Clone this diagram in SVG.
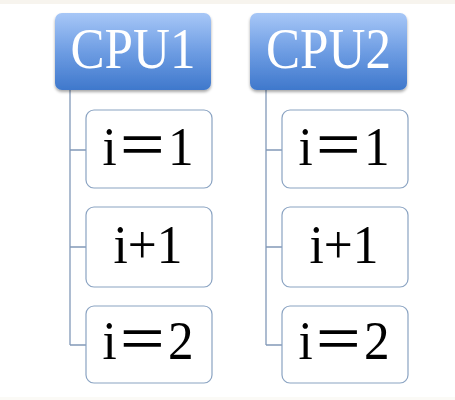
<svg xmlns="http://www.w3.org/2000/svg" width="455" height="400" viewBox="0 0 455 400">
<defs>
<linearGradient id="cpuGrad" x1="0" y1="0" x2="0" y2="1">
<stop offset="0" stop-color="#a7c7f7"/>
<stop offset="0.5" stop-color="#6e9de3"/>
<stop offset="1" stop-color="#3f78cc"/>
</linearGradient>
<filter id="sh" x="-10%" y="-10%" width="120%" height="130%">
<feGaussianBlur in="SourceAlpha" stdDeviation="1.5"/>
<feOffset dy="1.5"/>
<feComponentTransfer><feFuncA type="linear" slope="0.35"/></feComponentTransfer>
<feMerge><feMergeNode/><feMergeNode in="SourceGraphic"/></feMerge>
</filter>
</defs>
<style>
.cpu{fill:url(#cpuGrad);filter:url(#sh);}
.cpuT{font-family:"Liberation Serif",serif;font-size:57px;fill:#ffffff;text-anchor:middle;}
.box{fill:#ffffff;stroke:#8aa3c2;stroke-width:1.2;}
.boxT{font-family:"Liberation Serif","Noto Sans CJK SC",serif;font-size:55px;fill:#000000;text-anchor:middle;}
.con{fill:none;stroke:#8299b8;stroke-width:1.3;}
</style>
<rect x="0" y="0" width="455" height="400" fill="#ffffff"/>
<rect x="0" y="0" width="455" height="4" fill="#f7f4ee"/>
<rect x="0" y="397" width="455" height="3" fill="#fbfaf6"/>
<g id="connectors">
<path class="con" d="M70,90 V345 M70,150 H86 M70,247 H86 M70,345 H86"/>
<path class="con" d="M266,90 V345 M266,150 H282 M266,247 H282 M266,345 H282"/>
</g>
<g id="cpu1">
<rect class="cpu" x="55" y="13" width="156" height="77" rx="7"/>
<text class="cpuT" x="133" y="68" textLength="125" lengthAdjust="spacingAndGlyphs">CPU1</text>
</g>
<g id="cpu2">
<rect class="cpu" x="250" y="13" width="157" height="77" rx="7"/>
<text class="cpuT" x="328.5" y="68" textLength="125" lengthAdjust="spacingAndGlyphs">CPU2</text>
</g>
<g id="cpu1-a">
<rect class="box" x="86" y="110" width="126" height="78" rx="8"/>
<text class="boxT" x="148" y="165" textLength="91" lengthAdjust="spacingAndGlyphs">i＝1</text>
</g>
<g id="cpu1-b">
<rect class="box" x="86" y="207" width="126" height="80" rx="8"/>
<text class="boxT" x="148" y="263" textLength="69" lengthAdjust="spacingAndGlyphs">i+1</text>
</g>
<g id="cpu1-c">
<rect class="box" x="86" y="306" width="126" height="77" rx="8"/>
<text class="boxT" x="148" y="359" textLength="91" lengthAdjust="spacingAndGlyphs">i＝2</text>
</g>
<g id="cpu2-a">
<rect class="box" x="282" y="110" width="126" height="78" rx="8"/>
<text class="boxT" x="344" y="165" textLength="91" lengthAdjust="spacingAndGlyphs">i＝1</text>
</g>
<g id="cpu2-b">
<rect class="box" x="282" y="207" width="126" height="80" rx="8"/>
<text class="boxT" x="344" y="263" textLength="69" lengthAdjust="spacingAndGlyphs">i+1</text>
</g>
<g id="cpu2-c">
<rect class="box" x="282" y="306" width="126" height="77" rx="8"/>
<text class="boxT" x="344" y="359" textLength="91" lengthAdjust="spacingAndGlyphs">i＝2</text>
</g>
</svg>
